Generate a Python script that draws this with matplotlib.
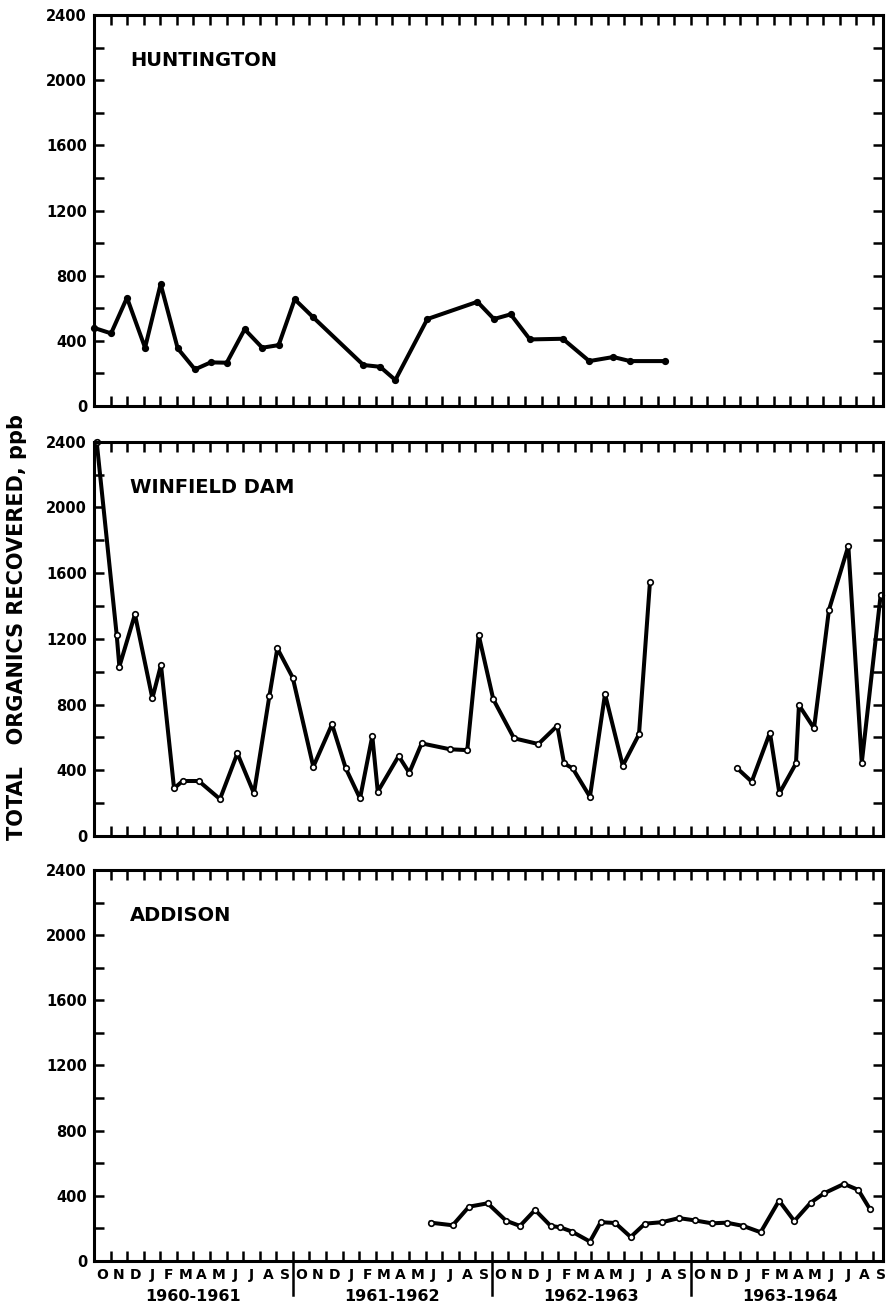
"""
Total organics recovered (ppb) at three Ohio River stations,
Oct 1960 - Sep 1964. x values are in months counted from 1 Oct 1960.
"""
import numpy as np
from matplotlib import pyplot as plt
from matplotlib.ticker import FixedLocator, MultipleLocator
from matplotlib.transforms import blended_transform_factory

# month letters along the bottom, one per month, 4 water years
month_letters = list("ONDJFMAMJJAS") * 4
year_labels = ["1960-1961", "1961-1962", "1962-1963", "1963-1964"]

# Huntington
hunt_x = [0.0, 1.03, 1.99, 3.08, 4.02, 5.05, 6.09, 7.04, 8.01, 9.09, 10.15, 11.14,
          12.11, 13.23, 16.25, 17.26, 18.18, 20.11, 23.13, 24.13, 25.14, 26.30,
          28.28, 29.88, 31.33, 32.34, 34.45]
hunt_y = [480, 446, 665, 358, 749, 354, 225, 268, 266, 471, 358, 374,
          655, 544, 252, 241, 160, 534, 640, 534, 563, 409,
          413, 276, 301, 276, 276]

# Winfield Dam - two runs, gap in 1963
winf_x1 = [0.16, 1.37, 1.53, 2.47, 3.52, 4.04, 4.83, 5.35, 6.32, 7.60, 8.65, 9.65,
           10.58, 11.06, 11.99, 13.23, 14.36, 15.19, 16.05, 16.79, 17.12, 18.38,
           19.02, 19.77, 21.48, 22.52, 23.21, 24.09, 25.34, 26.81, 27.95, 28.36,
           28.88, 29.92, 30.83, 31.90, 32.88, 33.54]
winf_y1 = [2400, 1223, 1031, 1349, 838, 1041, 290, 335, 335, 225, 503, 260,
           852, 1142, 964, 422, 680, 412, 229, 609, 270, 487,
           385, 564, 528, 523, 1223, 832, 595, 560, 671, 442,
           412, 239, 864, 428, 619, 1544]
winf_x2 = [38.81, 39.68, 40.78, 41.35, 42.35, 42.53, 43.44, 44.34, 45.51, 46.32, 47.46]
winf_y2 = [412, 331, 629, 260, 442, 797, 656, 1376, 1765, 446, 1467]

# Addison
addi_x = [20.31, 21.64, 22.62, 23.75, 24.86, 25.70, 26.61, 27.55, 28.11, 28.84,
          29.92, 30.57, 31.45, 32.38, 33.24, 34.27, 35.29, 36.25, 37.27, 38.17,
          39.17, 40.22, 41.33, 42.25, 43.24, 44.04, 45.25, 46.11, 46.82]
addi_y = [235, 219, 333, 354, 247, 215, 313, 215, 207, 180,
          119, 238, 233, 147, 229, 238, 263, 249, 231, 235,
          215, 176, 370, 245, 358, 415, 473, 436, 317]

fig = plt.figure(figsize=(8.91, 13.09), dpi=100)

# panel boxes in figure fractions (left, bottom, width, height)
left, width = 0.1055, 0.8855
boxes = [(left, 0.6898, width, 0.2987),
         (left, 0.3613, width, 0.3013),
         (left, 0.0367, width, 0.2987)]
names = ["HUNTINGTON", "WINFIELD DAM", "ADDISON"]

axes = []
for box, name in zip(boxes, names):
    ax = fig.add_axes(box)
    ax.set_xlim(0, 47.6)
    ax.set_ylim(0, 2400)
    ax.xaxis.set_major_locator(FixedLocator(np.arange(1, 48)))
    ax.set_yticks(np.arange(0, 2401, 400))
    ax.set_yticklabels([str(v) for v in range(0, 2401, 400)],
                       fontweight="bold", fontsize=10.5)
    ax.yaxis.set_minor_locator(MultipleLocator(200))
    ax.tick_params(which="both", direction="in", length=7.5, width=1.8,
                   top=True, right=True, labelbottom=False, pad=5)
    for sp in ax.spines.values():
        sp.set_linewidth(2.2)
    ax.text(0.046, 0.87, name, transform=ax.transAxes, fontsize=14,
            fontweight="bold", va="baseline", ha="left")
    axes.append(ax)

line_kw = dict(color="black", lw=2.9, marker="o", ms=4, mec="black",
               mew=1.2, clip_on=False)
axes[0].plot(hunt_x, hunt_y, mfc="black", **line_kw)
axes[1].plot(winf_x1, winf_y1, mfc="white", **line_kw)
axes[1].plot(winf_x2, winf_y2, mfc="white", **line_kw)
axes[2].plot(addi_x, addi_y, mfc="white", **line_kw)

#### month / year labels under the last panel ####
ax = axes[2]
trans = blended_transform_factory(ax.transData, ax.transAxes)
for k, letter in enumerate(month_letters):
    ax.text(k + 0.5, -0.036, letter, transform=trans, ha="center", va="center",
            fontsize=10, fontweight="bold")
for i, yr in enumerate(year_labels):
    ax.text(12 * i + 6, -0.09, yr, transform=trans, ha="center", va="center",
            fontsize=11.5, fontweight="bold")
for sep in [12, 24, 36]:
    ax.plot([sep, sep], [0, -0.087], transform=trans, color="black",
            lw=1.8, clip_on=False)

fig.text(0.019, 1 - 627 / 1309, "TOTAL   ORGANICS RECOVERED, ppb",
         rotation=90, ha="center", va="center", fontsize=15, fontweight="bold")

fig.savefig("out.png", dpi=100)
